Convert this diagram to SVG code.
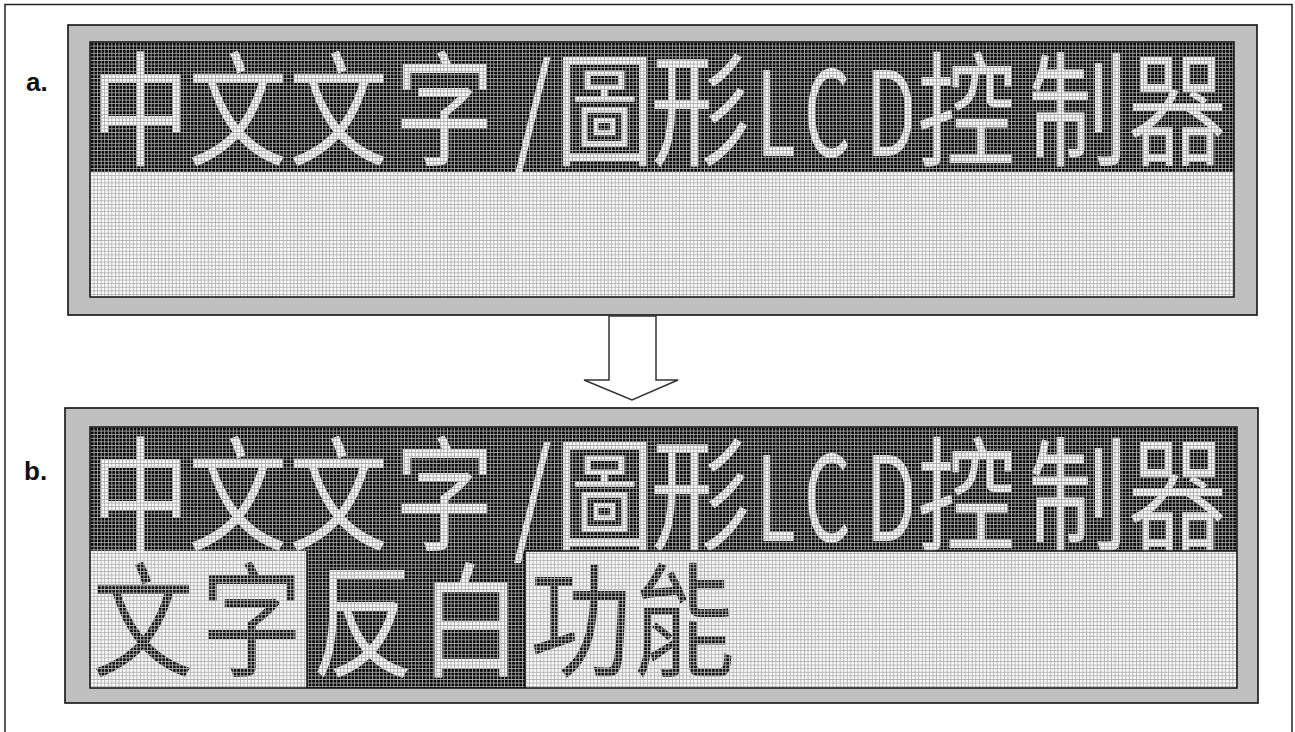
<svg xmlns="http://www.w3.org/2000/svg" width="1295" height="732" viewBox="0 0 1295 732">
<style>
.frame{fill:none;stroke:#222;stroke-width:1.5}
.panel{fill:#c0c0c0;stroke:#111;stroke-width:1.6}
.dark{fill:#050505}
.light{fill:#fbfbfb}
.disp{fill:none;stroke:#111;stroke-width:1.5}
.cjk{font-family:"Noto Sans CJK TC","Noto Sans CJK SC",sans-serif;font-size:124px}
.lat{font-family:"Noto Sans CJK TC","Noto Sans",sans-serif;font-size:118px}
.on{fill:#ffffff}
.off{fill:#111111}
.lbl{font-family:"Liberation Sans",Arial,sans-serif;font-weight:bold;font-size:26px;fill:#111}
.arrow{fill:#fff;stroke:#333;stroke-width:1.5;stroke-linejoin:miter}
</style>
<defs>
<pattern id="gDa" x="90" y="42" width="3.57" height="3.6" patternUnits="userSpaceOnUse"><path d="M0 0.45H3.57M0.45 0V3.6" stroke="#a8a8a8" stroke-width="0.9" fill="none"/></pattern>
<pattern id="gLa" x="90" y="42" width="3.57" height="3.6" patternUnits="userSpaceOnUse"><path d="M0 0.45H3.57M0.45 0V3.6" stroke="#b2b2b2" stroke-width="0.9" fill="none"/></pattern>
<pattern id="gDb" x="90" y="427" width="3.57" height="3.6" patternUnits="userSpaceOnUse"><path d="M0 0.45H3.57M0.45 0V3.6" stroke="#a8a8a8" stroke-width="0.9" fill="none"/></pattern>
<pattern id="gLb" x="90" y="427" width="3.57" height="3.6" patternUnits="userSpaceOnUse"><path d="M0 0.45H3.57M0.45 0V3.6" stroke="#b2b2b2" stroke-width="0.9" fill="none"/></pattern>
</defs>
<rect width="1295" height="732" fill="#fff"/>
<path class="frame" d="M5 734V4.5H1292V734"/>

<g id="label-a"><text class="lbl" x="26" y="91">a.</text></g>
<g id="label-b"><text class="lbl" x="24" y="480">b.</text></g>

<g id="panel-a">
<rect class="panel" x="68" y="25" width="1189" height="290"/>
<rect class="dark" x="90" y="42" width="1144" height="130"/>
<rect class="light" x="90" y="172" width="1144" height="125"/>
<g transform="scale(0.8 1)">
<text class="cjk on" x="113.75 235 361.25 493.75 641.25 693.75 813.75" y="156">中文文字/圖形</text>
<text class="cjk on" x="1146.25 1285 1410" y="156">控制器</text>
</g>
<g transform="scale(0.62 1)">
<text class="lat on" x="1219.4 1296.8 1396.8" y="156">LCD</text>
</g>
<rect x="90" y="42" width="1144" height="130" fill="url(#gDa)"/>
<rect x="90" y="172" width="1144" height="125" fill="url(#gLa)"/>
<rect class="disp" x="90" y="42" width="1144" height="255"/>
</g>

<g id="connectors">
<path class="arrow" d="M609 316V380H584L632 400L678 380H656V316Z"/>
</g>

<g id="panel-b">
<rect class="panel" x="65" y="408" width="1193" height="295"/>
<rect class="dark" x="90" y="427" width="1147" height="124"/>
<rect class="light" x="90" y="551" width="217" height="137"/>
<rect class="dark" x="307" y="551" width="218" height="137"/>
<rect class="light" x="525" y="551" width="712" height="137"/>
<g transform="scale(0.8 1)">
<text class="cjk on" x="113.75 235 361.25 493.75 641.25 693.75 813.75" y="541">中文文字/圖形</text>
<text class="cjk on" x="1146.25 1285 1410" y="541">控制器</text>
</g>
<g transform="scale(0.62 1)">
<text class="lat on" x="1219.4 1296.8 1396.8" y="541">LCD</text>
</g>
<g transform="scale(0.82 1)">
<text class="cjk off" x="112.2 245.1" y="667">文字</text>
<text class="cjk on" x="380.5 512.2" y="667">反白</text>
<text class="cjk off" x="646.3 771.9" y="667">功能</text>
</g>
<rect x="90" y="427" width="1147" height="124" fill="url(#gDb)"/>
<rect x="90" y="551" width="217" height="137" fill="url(#gLb)"/>
<rect x="307" y="551" width="218" height="137" fill="url(#gDb)"/>
<rect x="525" y="551" width="712" height="137" fill="url(#gLb)"/>
<rect class="disp" x="90" y="427" width="1147" height="261"/>
<path class="disp" d="M307 551V688M525 551V688M525 551H1237"/>
</g>
</svg>
